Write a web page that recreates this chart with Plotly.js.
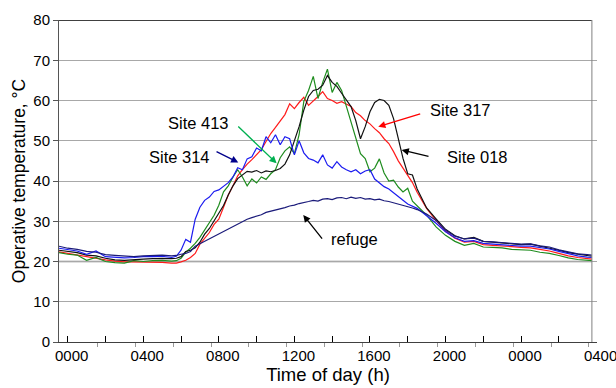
<!DOCTYPE html>
<html>
<head>
<meta charset="utf-8">
<script src="https://cdn.plot.ly/plotly-3.0.1.min.js"></script>
<style>html,body{margin:0;padding:0;background:#fff}#chart{width:616px;height:388px}</style>
</head>
<body>
<div id="chart"></div>
<script>
// Time of day in hours (0 = midnight of the day shown, 24 = next midnight)
const hours = [-0.46, 0, 0.5, 1, 1.5, 2, 2.5, 3, 3.5, 4, 4.5, 5, 5.5,
  5.75, 6, 6.25, 6.5, 6.75, 7, 7.25, 7.5, 7.75, 8, 8.25, 8.5, 8.75, 9, 9.25, 9.5, 9.75,
  10, 10.25, 10.5, 10.75, 11, 11.25, 11.5, 11.75, 12, 12.25, 12.5, 12.75, 13, 13.25, 13.5, 13.75,
  14, 14.25, 14.5, 14.75, 15, 15.25, 15.5, 15.75, 16, 16.25, 16.5, 16.75, 17, 17.25, 17.5, 17.75,
  18, 18.25, 18.5, 18.75, 19,
  19.5, 20, 20.5, 21, 21.5, 22, 22.5, 23, 23.5, 24, 24.5, 25, 25.5, 26, 26.5, 27, 27.5, 27.75];

const site317 = [22.4, 22.0, 21.7, 21.3, 20.8, 20.4, 20.1, 19.9, 19.9, 19.9, 19.9, 19.8, 19.6,
  19.6, 19.9, 20.3, 21.0, 22.0, 24.3, 25.8, 27.2, 29.2, 30.5, 33.5, 36.5, 38.8, 41.3, 42.8, 44.2, 45.3,
  46.5, 47.8, 49.8, 51.8, 53.3, 55.0, 56.5, 59.2, 58.0, 59.5, 60.8, 58.8, 59.8, 61.0, 62.2, 60.5,
  60.0, 59.3, 59.7, 59.2, 58.5, 57.0, 56.2, 55.0, 54.2, 53.0, 52.0, 50.5, 49.3, 47.3, 45.0, 43.2,
  41.5, 39.6, 37.2, 35.2, 33.2,
  30.2, 27.5, 25.8, 24.8, 25.0, 24.2, 24.0, 23.9, 23.7, 23.5, 23.4, 23.0, 22.6, 22.0, 21.4, 21.0, 20.7, 20.6];

const site018 = [22.8, 22.5, 22.2, 21.6, 21.4, 20.8, 20.4, 20.3, 20.5, 20.6, 20.7, 20.8, 20.7,
  20.8, 21.2, 22.5, 22.8, 23.4, 24.8, 26.8, 28.2, 30.0, 31.8, 33.9, 36.5, 38.8, 40.6, 41.6, 42.4, 42.2,
  42.6, 42.0, 42.5, 42.3, 42.6, 43.1, 44.2, 46.5, 50.0, 53.5, 57.6, 61.0, 62.5, 62.8, 63.8, 66.2,
  64.5, 63.5, 61.8, 60.3, 58.5, 55.0, 50.5, 53.5, 57.2, 59.5, 60.3, 60.0, 58.8, 55.5, 50.6, 45.6,
  41.8, 41.5, 38.0, 35.5, 33.3,
  30.6, 28.0, 26.4, 25.6, 26.0, 25.0, 24.8, 24.6, 24.4, 24.2, 24.3, 23.8, 23.4, 22.8, 22.2, 21.8, 21.5, 21.3];

const site413 = [22.2, 21.8, 21.6, 20.3, 21.0, 20.0, 19.7, 19.6, 20.2, 20.0, 20.2, 20.3, 20.1,
  20.2, 20.8, 22.3, 23.3, 24.5, 26.0, 27.8, 29.6, 31.5, 34.0, 37.3, 38.8, 41.0, 42.8, 41.0, 38.8, 40.5,
  39.5, 41.0, 40.4, 41.8, 42.8, 45.8, 47.5, 48.5, 46.8, 51.5, 59.8, 62.5, 66.0, 60.5, 64.5, 67.8,
  62.0, 64.5, 62.5, 58.5, 54.5, 50.5, 46.8, 45.6, 42.3, 43.2, 45.5, 42.0, 40.0, 40.2, 38.5, 37.3,
  38.2, 35.0, 33.8, 32.8, 31.5,
  28.6, 26.5, 25.0, 24.0, 24.5, 23.6, 23.5, 23.4, 23.0, 22.9, 22.8, 22.3, 22.0, 21.5, 20.9, 20.5, 20.3, 20.2];

const site314 = [23.3, 23.0, 22.6, 21.8, 22.6, 21.2, 21.0, 20.9, 21.0, 21.2, 21.2, 21.3, 21.0,
  21.3, 22.8, 25.5, 24.8, 30.5, 33.5, 35.2, 36.0, 37.4, 37.8, 38.8, 39.6, 41.0, 43.3, 42.8, 45.5, 46.0,
  48.2, 47.5, 51.0, 49.5, 51.5, 49.0, 51.0, 50.5, 46.5, 50.0, 47.0, 45.6, 45.2, 44.5, 46.5, 44.0,
  43.2, 44.8, 43.5, 42.8, 42.3, 42.8, 41.8, 42.5, 42.8, 40.5, 39.5, 38.6, 38.0, 37.0, 36.2, 35.2,
  34.3, 33.8, 33.2, 32.3, 31.4,
  29.5, 27.4, 25.9, 25.0, 25.2, 24.5, 24.3, 24.2, 24.0, 23.8, 23.8, 23.5, 23.1, 22.5, 21.9, 21.4, 21.1, 21.0];

const refuge = [23.8, 23.3, 23.0, 22.5, 22.3, 21.7, 21.5, 21.4, 21.2, 21.4, 21.5, 21.6, 21.4,
  21.5, 21.8, 22.0, 22.5, 23.8, 24.4, 25.0, 25.8, 26.3, 26.8, 27.4, 28.0, 28.7, 29.3, 29.9, 30.5, 30.9,
  31.3, 31.6, 32.2, 32.5, 32.8, 33.0, 33.4, 33.8, 34.0, 34.4, 34.6, 34.9, 35.2, 35.0, 35.5, 35.6,
  35.4, 35.8, 35.9, 35.6, 36.0, 35.7, 35.9, 35.5, 35.6, 35.3, 35.5, 35.1, 34.9, 34.6, 34.3, 34.0,
  33.7, 33.3, 32.9, 32.4, 31.8,
  30.2, 27.8, 26.3, 25.6, 25.8, 25.0, 24.9, 24.7, 24.5, 24.3, 24.4, 23.9, 23.6, 22.9, 22.4, 21.9, 21.7, 21.6];

const tickHours = [0, 4, 8, 12, 16, 20, 24, 28];
const tickLabels = ['0000', '0400', '0800', '1200', '1600', '2000', '0000', '0400'];
const seriesNames = ['Site 317', 'Site 413', 'Site 018', 'Site 314', 'refuge'];

const FONT = 'Liberation Sans, Arial, sans-serif';
const series = [site317, site413, site018, site314, refuge];
const colors = ['#ff1a1a', '#1e8c1e', '#111111', '#1c1cf0', '#1a1a7a'];
const traces = series.map((s, i) => ({
  type: 'scatter', mode: 'lines', x: hours, y: s, name: seriesNames[i],
  line: {color: colors[i], width: 1.2}, showlegend: false
}));

// major ticks every 2 h, labels every 4 h
const majorVals = [], majorText = [];
for (let h = 0; h <= 28; h += 2) {
  majorVals.push(h);
  const k = tickHours.indexOf(h);
  majorText.push(k >= 0 ? tickLabels[k] : '');
}

function arrow(hx, ty, tx, tyy, color) {
  return {x: hx, y: ty, ax: tx, ay: tyy, xref: 'x', yref: 'y', axref: 'x', ayref: 'y',
    text: '', showarrow: true, arrowhead: 2, arrowsize: 1.1, arrowwidth: 1.3, arrowcolor: color};
}
function label(h, t, txt) {
  return {x: h, y: t, xref: 'x', yref: 'y', text: txt, showarrow: false,
    font: {family: FONT, size: 16.5, color: '#000'}};
}

const layout = {
  width: 616, height: 388,
  margin: {l: 59, r: 19, t: 20, b: 46},
  paper_bgcolor: '#fff', plot_bgcolor: '#fff',
  font: {family: FONT, color: '#000'},
  xaxis: {
    range: [-0.46, 28.02], tickmode: 'array', tickvals: majorVals, ticktext: majorText,
    ticks: 'inside', ticklen: 6, tickcolor: '#000', tickwidth: 1, ticklabelshift: 4,
    ticklabeloverflow: 'allow',
    showgrid: false, zeroline: false, showline: true, linecolor: '#404040', linewidth: 1,
    tickfont: {family: FONT, size: 15, color: '#000'},
    minor: {tickmode: 'linear', tick0: 1.59, dtick: 2, ticks: 'outside', ticklen: 4, tickcolor: '#999', showgrid: false},
    title: {text: 'Time of day (h)', font: {family: FONT, size: 18.5, color: '#000'}, standoff: 4}
  },
  yaxis: {
    range: [0, 80], tickmode: 'linear', tick0: 0, dtick: 10,
    ticks: 'outside', ticklen: 5, tickcolor: '#555',
    showgrid: true, gridcolor: '#a8a8a8', gridwidth: 1, zeroline: false,
    showline: true, linecolor: '#555', linewidth: 1,
    tickfont: {family: FONT, size: 15, color: '#000'},
    title: {text: 'Operative temperature, °C', font: {family: FONT, size: 17.5, color: '#000'}, standoff: 3}
  },
  shapes: [
    {type: 'line', xref: 'x', yref: 'y', x0: -0.46, x1: 27.75, y0: 80, y1: 80, line: {color: '#000', width: 1.5}},
    {type: 'line', xref: 'x', yref: 'y', x0: 27.75, x1: 27.75, y0: 0, y1: 80, line: {color: '#808080', width: 1}},
    {type: 'line', xref: 'x', yref: 'y', x0: -0.46, x1: 27.75, y0: 20, y1: 20, line: {color: '#c0c0c0', width: 2}, layer: 'below'}
  ],
  annotations: [
    arrow(11.06, 44.4, 8.95, 53.9, '#00b050'),
    arrow(9.03, 44.6, 7.8, 47.5, '#00008b'),
    arrow(16.44, 53.5, 18.74, 56.8, '#ff0000'),
    arrow(17.68, 47.7, 19.18, 46.0, '#000'),
    arrow(12.47, 31.55, 13.53, 25.3, '#000'),
    label(6.95, 54.3, 'Site 413'),
    label(5.9, 46.0, 'Site 314'),
    label(20.8, 57.6, 'Site 317'),
    label(21.7, 46.0, 'Site 018'),
    label(15.2, 25.6, 'refuge')
  ]
};

Plotly.newPlot('chart', traces, layout, {staticPlot: true, displayModeBar: false});
</script>
</body>
</html>
